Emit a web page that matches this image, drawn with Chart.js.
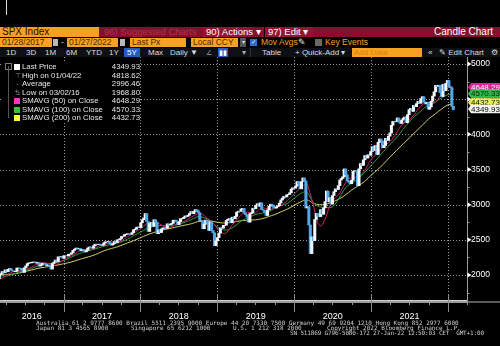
<!DOCTYPE html>
<html>
<head>
<meta charset="utf-8">
<script src="https://cdn.jsdelivr.net/npm/chart.js@4.4.1/dist/chart.umd.min.js"></script>
<style>
  html, body { margin: 0; padding: 0; background: #000; }
  body { width: 500px; height: 346px; position: relative; overflow: hidden; font-family: "Liberation Sans", Arial, sans-serif; }
  .abs { position: absolute; white-space: pre; }
  .row { position: absolute; left: 0; width: 500px; }
  .row span { position: absolute; top: 0; line-height: inherit; white-space: pre; }
  #r1 { top: 27px; height: 10px; line-height: 10px; font-size: 9.5px; background: #860f2e; color: #fff; }
  #r2 { top: 38px; height: 9px; line-height: 9px; font-size: 8.5px; }
  #r3 { top: 48px; height: 9px; line-height: 9px; font-size: 8px; background: #0e1016; color: #dcdcdc; }
  .org { background: #f5a320; color: #4b2a00; padding-left: 2px; box-sizing: border-box; height: 9px; }
  .ico { background: #b9b9b9; height: 7px; top: 1px !important; }
  #chartWrap { position: absolute; left: 0; top: 57px; width: 500px; height: 289px; }
  #legendBg { position: absolute; left: 2px; top: 61px; width: 137px; height: 62px; background: #000; }
  #legend { position: absolute; left: 4px; top: 63px; width: 136px; font-size: 7.8px; color: #e6e6e6; }
  #legend div { position: absolute; left: 0; width: 136px; height: 8px; line-height: 8px; }
  #legend .sw { position: absolute; left: 10px; top: 1px; width: 6px; height: 6px; }
  #legend .gl { position: absolute; left: 10px; width: 7px; text-align: center; color: #8a8a8a; font-size: 7px; }
  #legend .lb { position: absolute; left: 18px; }
  #legend .vl { position: absolute; right: 0; }
  .foot { position: absolute; font-family: "DejaVu Sans Mono", monospace; font-size: 6px; line-height: 6px; color: #cfcfcf; white-space: pre; }
</style>
</head>
<body>
<div class="abs" style="left:6px;top:0;width:1px;height:15px;background:#d8d8d8"></div>

<div class="row" id="r1">
  <span style="left:0;width:99px;background:#f5a01e;color:#221000;padding-left:2px;box-sizing:border-box;font-size:10px">SPX Index</span>
  <span style="left:104px;color:#b3304e">96) Suggested Charts</span>
  <span style="left:203px;width:47px;background:#971335;padding-left:3px;box-sizing:border-box">90) Actions ▾</span>
  <span style="left:264px;width:49px;background:#971335;padding-left:3px;box-sizing:border-box;border-left:1px solid #000">97) Edit ▾</span>
  <span style="right:7px;font-size:10px">Candle Chart</span>
</div>

<div class="row" id="r2">
  <span class="org" style="left:0;width:52px">01/28/2017</span>
  <span class="ico" style="left:53px;width:5px"></span>
  <span style="left:61px;color:#ddd">-</span>
  <span class="org" style="left:67px;width:51px">01/27/2022</span>
  <span class="ico" style="left:120px;width:5px"></span>
  <span class="org" style="left:130px;width:56px">Last Px</span>
  <span class="org" style="left:191px;width:47px">Local CCY</span>
  <span style="left:240px;width:6px;background:#555;color:#ddd;font-size:6px;text-align:center">▾</span>
  <span style="left:250px;top:1px;width:7px;height:7px;background:#2d6fd6;color:#fff;font-size:6px;line-height:7px;text-align:center">✓</span>
  <span style="left:261px;color:#f5a320">Mov Avgs</span>
  <span style="left:298px;color:#eee">✎</span>
  <span style="left:315px;top:1px;width:7px;height:7px;background:#6a6a6a"></span>
  <span style="left:325px;color:#f5a320">Key Events</span>
</div>

<div class="row" id="r3">
  <span style="left:6px">1D</span>
  <span style="left:26px">3D</span>
  <span style="left:45px">1M</span>
  <span style="left:66px">6M</span>
  <span style="left:86px">YTD</span>
  <span style="left:109px">1Y</span>
  <span style="left:124px;width:16px;background:#1f5fc4;color:#fff;text-align:center">5Y</span>
  <span style="left:148px">Max</span>
  <span style="left:170px">Daily ▼</span>
  <span style="left:206px;color:#999;font-size:7px">∠</span>
  <span style="left:218px;width:10px;background:#1f5fc4;color:#fff;text-align:center;font-size:7px">▮▮</span>
  <span style="left:242px;color:#aaa">▾</span>
  <span style="left:250px;width:1px;height:9px;background:#333"></span>
  <span style="left:262px">Table</span>
  <span style="left:295px">+ Quick-Add ▾</span>
  <span style="left:352px;width:70px;height:9px;background:#f5a320;color:#e07d10;padding-left:2px;box-sizing:border-box">Add Data</span>
  <span style="left:428px">«</span>
  <span style="left:439px">✎ Edit Chart</span>
  <span style="left:491px">⚙</span>
</div>

<div id="chartWrap"><canvas id="chart" width="500" height="289"></canvas></div>

<div id="legendBg"></div>
<div id="legend">
  <div style="top:0"><span class="sw" style="background:#fff"></span><span class="lb">Last Price</span><span class="vl">4349.93</span></div>
  <div style="top:8.5px"><span class="gl">⊤</span><span class="lb">High on 01/04/22</span><span class="vl">4818.62</span></div>
  <div style="top:17px"><span class="gl">-+-</span><span class="lb">Average</span><span class="vl">2996.46</span></div>
  <div style="top:25.5px"><span class="gl">⊥</span><span class="lb">Low on 03/02/16</span><span class="vl">1968.80</span></div>
  <div style="top:34px"><span class="sw" style="background:#ff2fc8"></span><span class="lb">SMAVG (50)  on Close</span><span class="vl">4648.29</span></div>
  <div style="top:42.5px"><span class="sw" style="background:#35c335"></span><span class="lb">SMAVG (100)  on Close</span><span class="vl">4570.33</span></div>
  <div style="top:51px"><span class="sw" style="background:#ffff3c"></span><span class="lb">SMAVG (200)  on Close</span><span class="vl">4432.73</span></div>
</div>
<div class="abs" style="left:8px;top:66px;width:1px;height:52px;background:#555"></div>
<div class="abs" style="left:5px;top:63px;width:5px;height:5px;border:1px solid #777"></div>

<div class="foot" style="left:36px;top:320px">Australia 61 2 9777 8600 Brazil 5511 2395 9000 Europe 44 20 7330 7500 Germany 49 69 9204 1210 Hong Kong 852 2977 6000</div>
<div class="foot" style="left:36px;top:325px">Japan 81 3 4565 8900</div>
<div class="foot" style="left:131px;top:325px">Singapore 65 6212 1000</div>
<div class="foot" style="left:233px;top:325px">U.S. 1 212 318 2000</div>
<div class="foot" style="left:327px;top:325px">Copyright 2022 Bloomberg Finance L.P.</div>
<div class="foot" style="left:290px;top:330px;letter-spacing:-0.15px">SN 511869 G796-5080-172 27-Jan-22 12:50:03 CET  GMT+1:00</div>

<script>
// weekly closes, Friday of each week, starting 2016-03-04 (last one is Wed 2022-01-26)
const firstWeek = "2016-03-04";
const priorClose = 1948;
const weeklyClose = [
  1999, 2022, 2050, 2035, 2073, 2047, 2081, 2092, 2065, 2057, 2047, 2052, 2099, 2099, 2096, 2071, 2037,
  2103, 2130, 2162, 2175, 2173, 2183, 2184, 2184, 2169, 2180, 2128, 2139, 2165, 2168, 2153, 2133, 2141,
  2126, 2085, 2164, 2182, 2213, 2192, 2259, 2258, 2263, 2239,
  // 2017
  2277, 2275, 2271, 2295, 2297, 2316, 2351, 2367, 2383, 2373, 2378, 2344, 2363, 2355, 2329, 2349, 2384,
  2399, 2391, 2382, 2416, 2439, 2432, 2433, 2438, 2423, 2425, 2459, 2473, 2472, 2477, 2441, 2426, 2444,
  2477, 2461, 2500, 2502, 2519, 2549, 2553, 2575, 2581, 2588, 2582, 2579, 2602, 2642, 2651, 2675, 2683, 2674,
  // 2018
  2743, 2786, 2810, 2873, 2762, 2620, 2732, 2747, 2691, 2786, 2752, 2588, 2641, 2604, 2656, 2670, 2670,
  2663, 2728, 2713, 2721, 2735, 2779, 2780, 2755, 2718, 2760, 2801, 2802, 2819, 2840, 2833, 2850, 2875,
  2902, 2872, 2905, 2930, 2914, 2886, 2767, 2768, 2658, 2723, 2781, 2736, 2633, 2760, 2633, 2600, 2417, 2486,
  // 2019
  2532, 2596, 2671, 2665, 2707, 2708, 2776, 2793, 2804, 2743, 2822, 2800, 2834, 2893, 2907, 2905, 2940,
  2946, 2881, 2860, 2826, 2752, 2873, 2887, 2950, 2942, 2990, 3014, 2977, 3026, 2932, 2919, 2889, 2847,
  2926, 2979, 3007, 2992, 2962, 2952, 2970, 2986, 3023, 3067, 3093, 3120, 3110, 3141, 3146, 3169, 3221, 3240,
  // 2020
  3235, 3265, 3330, 3295, 3226, 3328, 3380, 3338, 2954, 2972, 2711, 2305, 2541, 2489, 2790, 2875, 2837,
  2831, 2930, 2864, 2955, 3044, 3194, 3041, 3098, 3009, 3130, 3185, 3225, 3216, 3271, 3351, 3373, 3397,
  3508, 3427, 3341, 3319, 3298, 3348, 3477, 3484, 3465, 3270, 3510, 3585, 3558, 3638, 3699, 3663, 3709, 3703, 3756,
  // 2021
  3825, 3768, 3841, 3714, 3887, 3934, 3907, 3811, 3842, 3943, 3913, 3975, 4020, 4129, 4185, 4180, 4181,
  4233, 4174, 4156, 4204, 4230, 4247, 4166, 4281, 4352, 4370, 4327, 4412, 4395, 4437, 4468, 4442, 4509,
  4535, 4459, 4433, 4455, 4357, 4391, 4471, 4545, 4605, 4697, 4683, 4698, 4595, 4538, 4712, 4620, 4726, 4766,
  // 2022
  4677, 4663, 4398, 4350,
];

const sma50 = [
  ["2016-03-01", 1940], ["2016-03-15", 1955], ["2016-04-01", 1985], ["2016-04-15", 2015], ["2016-05-01", 2040],
  ["2016-05-15", 2055], ["2016-06-01", 2060], ["2016-06-15", 2075], ["2016-07-01", 2080], ["2016-07-15", 2090],
  ["2016-08-01", 2110], ["2016-08-15", 2135], ["2016-09-01", 2165], ["2016-09-15", 2175], ["2016-10-01", 2172],
  ["2016-10-15", 2165], ["2016-11-01", 2155], ["2016-11-15", 2140], ["2016-12-01", 2150], ["2016-12-15", 2180],
  ["2017-01-01", 2215], ["2017-01-15", 2240], ["2017-02-01", 2265], ["2017-02-15", 2285], ["2017-03-01", 2310],
  ["2017-03-15", 2340], ["2017-04-01", 2360], ["2017-04-15", 2365], ["2017-05-01", 2365], ["2017-05-15", 2370],
  ["2017-06-01", 2385], ["2017-06-15", 2405], ["2017-07-01", 2425], ["2017-07-15", 2440], ["2017-08-01", 2450],
  ["2017-08-15", 2455], ["2017-09-01", 2455], ["2017-09-15", 2465], ["2017-10-01", 2485], ["2017-10-15", 2510],
  ["2017-11-01", 2545], ["2017-11-15", 2570], ["2017-12-01", 2595], ["2017-12-15", 2625],
  ["2018-01-01", 2655], ["2018-01-15", 2690], ["2018-02-01", 2735], ["2018-02-15", 2745], ["2018-03-01", 2750],
  ["2018-03-15", 2745], ["2018-04-01", 2730], ["2018-04-15", 2705], ["2018-05-01", 2680], ["2018-05-15", 2670],
  ["2018-06-01", 2690], ["2018-06-15", 2715], ["2018-07-01", 2730], ["2018-07-15", 2745], ["2018-08-01", 2770],
  ["2018-08-15", 2795], ["2018-09-01", 2825], ["2018-09-15", 2850], ["2018-10-01", 2870], ["2018-10-15", 2875],
  ["2018-11-01", 2845], ["2018-11-15", 2805], ["2018-12-01", 2770], ["2018-12-15", 2730],
  ["2019-01-01", 2660], ["2019-01-15", 2620], ["2019-02-01", 2590], ["2019-02-15", 2605], ["2019-03-01", 2660],
  ["2019-03-15", 2720], ["2019-04-01", 2780], ["2019-04-15", 2825], ["2019-05-01", 2870], ["2019-05-15", 2895],
  ["2019-06-01", 2890], ["2019-06-15", 2870], ["2019-07-01", 2880], ["2019-07-15", 2920], ["2019-08-01", 2960],
  ["2019-08-15", 2950], ["2019-09-01", 2940], ["2019-09-15", 2940], ["2019-10-01", 2960], ["2019-10-15", 2975],
  ["2019-11-01", 2990], ["2019-11-15", 3020], ["2019-12-01", 3060], ["2019-12-15", 3100],
  ["2020-01-01", 3150], ["2020-01-15", 3190], ["2020-02-01", 3240], ["2020-02-15", 3280], ["2020-03-01", 3300],
  ["2020-03-15", 3180], ["2020-04-01", 3000], ["2020-04-15", 2810], ["2020-05-01", 2700], ["2020-05-15", 2720],
  ["2020-06-01", 2830], ["2020-06-15", 2960], ["2020-07-01", 3050], ["2020-07-15", 3100], ["2020-08-01", 3150],
  ["2020-08-15", 3220], ["2020-09-01", 3310], ["2020-09-15", 3370], ["2020-10-01", 3380], ["2020-10-15", 3390],
  ["2020-11-01", 3400], ["2020-11-15", 3430], ["2020-12-01", 3480], ["2020-12-15", 3560],
  ["2021-01-01", 3640], ["2021-01-15", 3690], ["2021-02-01", 3730], ["2021-02-15", 3780], ["2021-03-01", 3830],
  ["2021-03-15", 3860], ["2021-04-01", 3900], ["2021-04-15", 3950], ["2021-05-01", 4020], ["2021-05-15", 4090],
  ["2021-06-01", 4150], ["2021-06-15", 4180], ["2021-07-01", 4210], ["2021-07-15", 4250], ["2021-08-01", 4310],
  ["2021-08-15", 4370], ["2021-09-01", 4420], ["2021-09-15", 4450], ["2021-10-01", 4460], ["2021-10-15", 4440],
  ["2021-11-01", 4450], ["2021-11-15", 4500], ["2021-12-01", 4580], ["2021-12-15", 4630],
  ["2022-01-01", 4660], ["2022-01-15", 4690], ["2022-01-26", 4648],
];

const sma100 = [
  ["2016-03-01", 1990], ["2016-04-01", 1985], ["2016-05-01", 2005], ["2016-06-01", 2040], ["2016-07-01", 2065],
  ["2016-08-01", 2090], ["2016-09-01", 2130], ["2016-10-01", 2155], ["2016-11-01", 2165], ["2016-12-01", 2175],
  ["2017-01-01", 2205], ["2017-02-01", 2245], ["2017-03-01", 2285], ["2017-04-01", 2320], ["2017-05-01", 2345],
  ["2017-06-01", 2370], ["2017-07-01", 2400], ["2017-08-01", 2425], ["2017-09-01", 2445], ["2017-10-01", 2470],
  ["2017-11-01", 2510], ["2017-12-01", 2560],
  ["2018-01-01", 2610], ["2018-02-01", 2660], ["2018-03-01", 2690], ["2018-04-01", 2705], ["2018-05-01", 2700],
  ["2018-06-01", 2700], ["2018-07-01", 2720], ["2018-08-01", 2750], ["2018-09-01", 2790], ["2018-10-01", 2830],
  ["2018-11-01", 2815], ["2018-12-01", 2770],
  ["2019-01-01", 2680], ["2019-02-01", 2640], ["2019-03-01", 2650], ["2019-04-01", 2710], ["2019-05-01", 2780],
  ["2019-06-01", 2820], ["2019-07-01", 2860], ["2019-08-01", 2880], ["2019-09-01", 2900], ["2019-10-01", 2950],
  ["2019-11-01", 2990], ["2019-12-01", 3020],
  ["2020-01-01", 3090], ["2020-02-01", 3160], ["2020-03-01", 3180], ["2020-04-01", 3030], ["2020-05-01", 2970],
  ["2020-06-01", 2960], ["2020-07-01", 2970], ["2020-08-01", 3090], ["2020-09-01", 3240], ["2020-10-01", 3310],
  ["2020-11-01", 3370], ["2020-12-01", 3460],
  ["2021-01-01", 3560], ["2021-02-01", 3660], ["2021-03-01", 3760], ["2021-04-01", 3860], ["2021-05-01", 3950],
  ["2021-06-01", 4070], ["2021-07-01", 4180], ["2021-08-01", 4270], ["2021-09-01", 4350], ["2021-10-01", 4420],
  ["2021-11-01", 4460], ["2021-12-01", 4520], ["2022-01-01", 4565], ["2022-01-26", 4570],
];

const sma200 = [
  ["2016-03-01", 2010], ["2016-04-01", 2010], ["2016-05-01", 2012], ["2016-06-01", 2025], ["2016-07-01", 2050],
  ["2016-08-01", 2070], ["2016-09-01", 2095], ["2016-10-01", 2110], ["2016-11-01", 2125], ["2016-12-01", 2140],
  ["2017-01-01", 2160], ["2017-02-01", 2180], ["2017-03-01", 2205], ["2017-04-01", 2235], ["2017-05-01", 2260],
  ["2017-06-01", 2290], ["2017-07-01", 2330], ["2017-08-01", 2365], ["2017-09-01", 2390], ["2017-10-01", 2420],
  ["2017-11-01", 2455], ["2017-12-01", 2490],
  ["2018-01-01", 2530], ["2018-02-01", 2570], ["2018-03-01", 2600], ["2018-04-01", 2630], ["2018-05-01", 2650],
  ["2018-06-01", 2670], ["2018-07-01", 2690], ["2018-08-01", 2710], ["2018-09-01", 2730], ["2018-10-01", 2760],
  ["2018-11-01", 2770], ["2018-12-01", 2770],
  ["2019-01-01", 2750], ["2019-02-01", 2740], ["2019-03-01", 2745], ["2019-04-01", 2760], ["2019-05-01", 2775],
  ["2019-06-01", 2780], ["2019-07-01", 2785], ["2019-08-01", 2800], ["2019-09-01", 2830], ["2019-10-01", 2860],
  ["2019-11-01", 2900], ["2019-12-01", 2940],
  ["2020-01-01", 2990], ["2020-02-01", 3040], ["2020-03-01", 3070], ["2020-04-01", 3020], ["2020-05-01", 3000],
  ["2020-06-01", 3005], ["2020-07-01", 3040], ["2020-08-01", 3080], ["2020-09-01", 3140], ["2020-10-01", 3210],
  ["2020-11-01", 3270], ["2020-12-01", 3330],
  ["2021-01-01", 3420], ["2021-02-01", 3500], ["2021-03-01", 3580], ["2021-04-01", 3680], ["2021-05-01", 3770],
  ["2021-06-01", 3860], ["2021-07-01", 3950], ["2021-08-01", 4040], ["2021-09-01", 4130], ["2021-10-01", 4220],
  ["2021-11-01", 4290], ["2021-12-01", 4360], ["2022-01-01", 4420], ["2022-01-26", 4432],
];

const yearLabels = ["2016", "2017", "2018", "2019", "2020", "2021"];
const yearStarts = ["2017-01-01", "2018-01-01", "2019-01-01", "2020-01-01", "2021-01-01", "2022-01-01"];
const priceTicks = [2000, 2500, 3000, 3500, 4000, 4500, 5000];
const minorTicks = [1750, 2250, 2750, 3250, 3750, 4250, 4750];

const flags = [
  { value: 4648.29, text: "4648.29", bg: "#e0259a", fg: "#ffffff" },
  { value: 4570.33, text: "4570.33", bg: "#30b84a", fg: "#0a1a0a" },
  { value: 4432.73, text: "4432.73", bg: "#efeb5c", fg: "#111111" },
  { value: 4349.93, text: "4349.93", bg: "#f4f4f4", fg: "#000000" },
];

const DAY = 86400000;
const BASE = Date.UTC(2016, 0, 1);
function dayOf(s) {
  const [y, m, d] = s.split("-").map(Number);
  return (Date.UTC(y, m - 1, d) - BASE) / DAY;
}

const X_MIN = 64.4;
const X_MAX = 2282;

const firstDay = dayOf(firstWeek);
const candles = weeklyClose.map((close, i) => {
  const open = i === 0 ? priorClose : weeklyClose[i - 1];
  return { x: firstDay + 7 * i - 2, y: [open, close] };
});
const candleColors = candles.map((c) => (c.y[1] >= c.y[0] ? "#f3f7fc" : "#55a6e4"));

const toPoints = (rows) => rows.map(([d, v]) => ({ x: dayOf(d), y: v }));

// visible-part midpoints for the year labels
const yearLabelPos = yearLabels.map((y) => {
  const start = Math.max(dayOf(`${y}-01-01`), X_MIN);
  const end = dayOf(`${Number(y) + 1}-01-01`);
  return (start + end) / 2;
});

const terminalPlugin = {
  id: "terminalAxes",
  beforeDatasetsDraw(chart) {
    const { ctx, chartArea, scales } = chart;
    ctx.save();
    ctx.lineWidth = 1;
    ctx.strokeStyle = "#9a9a9a";
    ctx.setLineDash([1, 2]);
    priceTicks.forEach((v) => {
      const y = Math.round(scales.y.getPixelForValue(v)) + 0.5;
      ctx.beginPath();
      ctx.moveTo(chartArea.left, y);
      ctx.lineTo(chartArea.right, y);
      ctx.stroke();
    });
    yearStarts.forEach((d) => {
      const x = Math.round(scales.x.getPixelForValue(dayOf(d))) + 0.5;
      ctx.beginPath();
      ctx.moveTo(x, chartArea.top);
      ctx.lineTo(x, chartArea.bottom);
      ctx.stroke();
    });
    ctx.restore();
  },
  afterDatasetsDraw(chart) {
    const { ctx, chartArea, scales } = chart;
    const bottom = chartArea.bottom;
    ctx.save();
    // x axis strip
    ctx.fillStyle = "#9a9a9a";
    ctx.fillRect(chartArea.left, bottom, chartArea.right - chartArea.left, 3);
    ctx.fillStyle = "#d0d0d0";
    ctx.fillRect(chartArea.left, bottom, chartArea.right - chartArea.left, 1);
    ctx.fillStyle = "#5a5a5a";
    ctx.fillRect(chartArea.right, bottom + 1, chart.width - chartArea.right, 2);
    // year boundaries below the axis
    ctx.strokeStyle = "#8c8c8c";
    ctx.lineWidth = 1;
    yearStarts.forEach((d) => {
      const x = Math.round(scales.x.getPixelForValue(dayOf(d))) + 0.5;
      ctx.beginPath();
      ctx.moveTo(x, bottom - 6);
      ctx.lineTo(x, bottom + 12);
      ctx.stroke();
    });
    // quarter ticks
    ctx.strokeStyle = "#9a9a9a";
    for (let y = 2016; y <= 2022; y++) {
      ["04-01", "07-01", "10-01"].forEach((md) => {
        const d = dayOf(`${y}-${md}`);
        if (d < X_MIN || d > X_MAX) return;
        const x = Math.round(scales.x.getPixelForValue(d)) + 0.5;
        ctx.beginPath();
        ctx.moveTo(x, bottom + 3);
        ctx.lineTo(x, bottom + 5);
        ctx.stroke();
      });
    }
    // y axis line, markers, minor ticks
    const ax = chartArea.right + 0.5;
    ctx.strokeStyle = "#9c9c9c";
    ctx.beginPath();
    ctx.moveTo(ax, chartArea.top);
    ctx.lineTo(ax, bottom + 3);
    ctx.stroke();
    ctx.fillStyle = "#ffffff";
    priceTicks.forEach((v) => {
      const y = scales.y.getPixelForValue(v);
      ctx.beginPath();
      ctx.moveTo(ax, y - 2.5);
      ctx.lineTo(ax + 4, y);
      ctx.lineTo(ax, y + 2.5);
      ctx.closePath();
      ctx.fill();
    });
    minorTicks.forEach((v) => {
      const y = Math.round(scales.y.getPixelForValue(v)) + 0.5;
      ctx.beginPath();
      ctx.moveTo(ax, y);
      ctx.lineTo(ax + 2, y);
      ctx.stroke();
    });
    ctx.restore();
  },
  afterDraw(chart) {
    const { ctx, chartArea, scales } = chart;
    ctx.save();
    ctx.font = "8px 'Liberation Sans', Arial, sans-serif";
    ctx.textBaseline = "middle";
    let prev = -Infinity;
    flags.forEach((f) => {
      let y = scales.y.getPixelForValue(f.value) - 1.5;
      y = Math.max(y, prev + 6.5);
      prev = y;
      const x0 = chartArea.right + 1;
      ctx.fillStyle = f.bg;
      ctx.beginPath();
      ctx.moveTo(x0, y);
      ctx.lineTo(x0 + 3, y - 4.25);
      ctx.lineTo(chart.width, y - 4.25);
      ctx.lineTo(chart.width, y + 4.25);
      ctx.lineTo(x0 + 3, y + 4.25);
      ctx.closePath();
      ctx.fill();
      ctx.fillStyle = f.fg;
      ctx.fillText(f.text, x0 + 3, y + 0.5);
    });
    ctx.restore();
  },
};

function lineSet(label, rows, color) {
  return {
    type: "line",
    label,
    data: toPoints(rows),
    borderColor: color,
    borderWidth: 1,
    pointRadius: 0,
    tension: 0.35,
    fill: false,
    order: 2,
  };
}

new Chart(document.getElementById("chart"), {
  data: {
    datasets: [
      {
        type: "bar",
        label: "SPX",
        data: candles,
        backgroundColor: candleColors,
        borderWidth: 0,
        barThickness: 2.4,
        order: 0,
      },
      lineSet("SMAVG (50)", sma50, "#c81f74"),
      lineSet("SMAVG (100)", sma100, "#2e9c3a"),
      lineSet("SMAVG (200)", sma200, "#d4cc62"),
    ],
  },
  options: {
    responsive: false,
    animation: false,
    events: [],
    layout: { padding: 0 },
    plugins: { legend: { display: false }, tooltip: { enabled: false } },
    scales: {
      x: {
        type: "linear",
        offset: false,
        min: X_MIN,
        max: X_MAX,
        grid: { display: false, drawTicks: false, offset: false },
        border: { display: false },
        afterBuildTicks(scale) {
          scale.ticks = yearLabelPos.map((v) => ({ value: v }));
        },
        afterFit(scale) {
          scale.height = 46;
          scale.paddingLeft = 0;
          scale.paddingRight = 0;
        },
        ticks: {
          autoSkip: false,
          maxRotation: 0,
          padding: 11,
          color: "#ffffff",
          font: { family: "'Liberation Sans', Arial, sans-serif", size: 9 },
          callback: (value, index) => yearLabels[index],
        },
      },
      y: {
        type: "linear",
        position: "right",
        min: 1645,
        max: 5100,
        grid: { display: false, drawTicks: false },
        border: { display: false },
        afterBuildTicks(scale) {
          scale.ticks = priceTicks.map((v) => ({ value: v }));
        },
        afterFit(scale) {
          scale.width = 33;
          scale.paddingTop = 0;
          scale.paddingBottom = 0;
        },
        ticks: {
          padding: 4,
          color: "#ffffff",
          font: { family: "'Liberation Sans', Arial, sans-serif", size: 8.5 },
          callback: (value) => String(value),
        },
      },
    },
  },
  plugins: [terminalPlugin],
});
</script>
</body>
</html>
